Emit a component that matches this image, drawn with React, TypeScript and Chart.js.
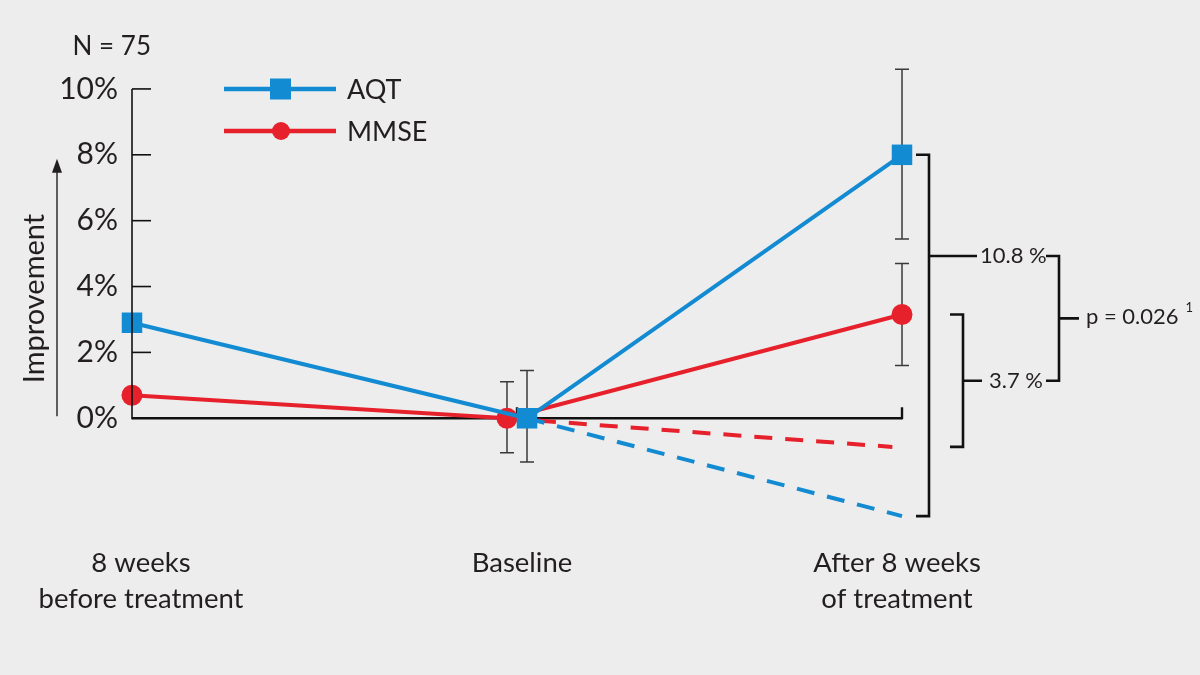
import { useEffect, useRef } from "react";
import { Chart, registerables } from "chart.js";

Chart.register(...registerables);

// ---- data ----
const categories: string[][] = [["8 weeks", "before treatment"], ["Baseline"], ["After 8 weeks", "of treatment"]];
const aqtValues = [2.9, 0, 8.0];
const mmseValues = [0.7, 0, 3.15];
const aqtErrHigh: (number | null)[] = [null, 1.45, 10.6];
const aqtErrLow: (number | null)[] = [null, -1.33, 5.44];
const mmseErrHigh: (number | null)[] = [null, 1.11, 4.7];
const mmseErrLow: (number | null)[] = [null, -1.05, 1.6];
const aqtProjected = -2.97; // expected course without treatment
const mmseProjected = -0.87;
const yTickValues = [0, 2, 4, 6, 8, 10];
const aqtDiffLabel = "10.8 %";
const mmseDiffLabel = "3.7 %";
const pLabel = "p = 0.026";
const pFootnote = "1";
const nLabel = "N = 75";
const seriesNames = ["AQT", "MMSE"];

// ---- style ----
const BLUE = "#128bd2";
const RED = "#e6212b";
const INK = "#231f20";
const BG = "#ededed";
const FONT = "Lato, 'Open Sans', sans-serif";
const JITTER = 0.026; // horizontal dodge at baseline

const pts = (vals: number[], dodge: number) =>
  vals.map((v, i) => ({ x: i === 1 ? i + dodge : i, y: v }));

export default function App() {
  const ref = useRef<HTMLCanvasElement | null>(null);

  useEffect(() => {
    document.body.style.margin = "0";
    document.body.style.background = BG;
    const canvas = ref.current!;

    const decor = {
      id: "decor",
      beforeDraw(chart: any) {
        const { ctx } = chart;
        ctx.save();
        ctx.fillStyle = BG;
        ctx.fillRect(0, 0, chart.width, chart.height);
        ctx.restore();
      },
      beforeDatasetsDraw(chart: any) {
        const { ctx, chartArea } = chart;
        const xs = chart.scales.x;
        const ys = chart.scales.y;
        ctx.save();
        // zero line with end ticks
        const y0 = ys.getPixelForValue(0);
        ctx.strokeStyle = "#111";
        ctx.lineWidth = 2.6;
        ctx.beginPath();
        ctx.moveTo(chartArea.left, y0);
        ctx.lineTo(xs.getPixelForValue(2), y0);
        ctx.stroke();
        ctx.lineWidth = 2.4;
        for (const v of [1, 2]) {
          const px = xs.getPixelForValue(v);
          ctx.beginPath();
          ctx.moveTo(px, y0 + 1);
          ctx.lineTo(px, y0 - 11);
          ctx.stroke();
        }
        // error bars
        ctx.strokeStyle = "#3a3a3a";
        ctx.lineWidth = 1.5;
        const drawErr = (hi: (number | null)[], lo: (number | null)[], dodge: number) => {
          hi.forEach((h, i) => {
            const l = lo[i];
            if (h == null || l == null) return;
            const px = xs.getPixelForValue(i === 1 ? i + dodge : i);
            const py1 = ys.getPixelForValue(h);
            const py2 = ys.getPixelForValue(l);
            ctx.beginPath();
            ctx.moveTo(px, py1);
            ctx.lineTo(px, py2);
            ctx.moveTo(px - 7, py1);
            ctx.lineTo(px + 7, py1);
            ctx.moveTo(px - 7, py2);
            ctx.lineTo(px + 7, py2);
            ctx.stroke();
          });
        };
        drawErr(mmseErrHigh, mmseErrLow, -JITTER);
        drawErr(aqtErrHigh, aqtErrLow, JITTER);
        ctx.restore();
      },
      afterDraw(chart: any) {
        const { ctx, chartArea } = chart;
        const xs = chart.scales.x;
        const ys = chart.scales.y;
        ctx.save();
        // y axis line + inward ticks
        const left = chartArea.left;
        ctx.strokeStyle = "#111";
        ctx.lineWidth = 1.6;
        ctx.beginPath();
        ctx.moveTo(left, ys.getPixelForValue(0) + 1);
        ctx.lineTo(left, ys.getPixelForValue(10));
        ctx.stroke();
        yTickValues.forEach((v) => {
          if (v === 0) return;
          const py = ys.getPixelForValue(v);
          ctx.beginPath();
          ctx.moveTo(left, py);
          ctx.lineTo(left + 19, py);
          ctx.stroke();
        });

        // y title + arrow
        ctx.fillStyle = INK;
        ctx.save();
        ctx.translate(35, (ys.getPixelForValue(0) + ys.getPixelForValue(8)) / 2 + 12);
        ctx.rotate(-Math.PI / 2);
        ctx.font = `29px ${FONT}`;
        ctx.textAlign = "center";
        ctx.textBaseline = "middle";
        ctx.fillText("Improvement", 0, 0);
        ctx.restore();
        ctx.strokeStyle = INK;
        ctx.lineWidth = 1.4;
        ctx.beginPath();
        ctx.moveTo(57, ys.getPixelForValue(0) - 2);
        ctx.lineTo(57, ys.getPixelForValue(8) + 14);
        ctx.stroke();
        ctx.beginPath();
        ctx.moveTo(57, ys.getPixelForValue(8) + 4);
        ctx.lineTo(52, ys.getPixelForValue(8) + 18);
        ctx.lineTo(62, ys.getPixelForValue(8) + 18);
        ctx.closePath();
        ctx.fill();

        // N label
        ctx.font = `26px ${FONT}`;
        ctx.textAlign = "right";
        ctx.textBaseline = "middle";
        ctx.fillText(nLabel, 151, 47);

        // category labels
        const nudge = [9, 5, -5];
        ctx.font = `27.5px ${FONT}`;
        ctx.textAlign = "center";
        categories.forEach((lines, i) => {
          const cx = xs.getPixelForValue(i) + nudge[i];
          lines.forEach((t, j) => ctx.fillText(t, cx, 563 + j * 36));
        });

        // legend
        const legend = [
          { name: seriesNames[0], color: BLUE, shape: "rect", y: 89 },
          { name: seriesNames[1], color: RED, shape: "circle", y: 131 },
        ];
        legend.forEach((it) => {
          ctx.strokeStyle = it.color;
          ctx.fillStyle = it.color;
          ctx.lineWidth = 4.5;
          ctx.beginPath();
          ctx.moveTo(224, it.y);
          ctx.lineTo(336, it.y);
          ctx.stroke();
          if (it.shape === "rect") ctx.fillRect(270, it.y - 10.5, 21, 21);
          else {
            ctx.beginPath();
            ctx.arc(281, it.y, 9, 0, Math.PI * 2);
            ctx.fill();
          }
          ctx.fillStyle = INK;
          ctx.font = `27px ${FONT}`;
          ctx.textAlign = "left";
          ctx.textBaseline = "middle";
          ctx.fillText(it.name, 347, it.y + 1);
        });

        // brackets
        const xAfter = xs.getPixelForValue(2);
        ctx.strokeStyle = "#111";
        ctx.lineWidth = 2.6;
        ctx.fillStyle = INK;
        ctx.font = `22px ${FONT}`;
        ctx.textAlign = "left";
        ctx.textBaseline = "middle";
        // AQT bracket
        const bx1 = xAfter + 27;
        const t1 = ys.getPixelForValue(aqtValues[2]);
        const b1 = ys.getPixelForValue(aqtProjected);
        const m1 = t1 + 0.28 * (b1 - t1);
        ctx.beginPath();
        ctx.moveTo(bx1 - 13, t1);
        ctx.lineTo(bx1, t1);
        ctx.lineTo(bx1, b1);
        ctx.lineTo(bx1 - 13, b1);
        ctx.moveTo(bx1, m1);
        ctx.lineTo(bx1 + 48, m1);
        ctx.stroke();
        ctx.fillText(aqtDiffLabel, bx1 + 51, m1);
        // MMSE bracket
        const bx2 = xAfter + 61;
        const t2 = ys.getPixelForValue(mmseValues[2]);
        const b2 = ys.getPixelForValue(mmseProjected);
        const m2 = (t2 + b2) / 2;
        ctx.beginPath();
        ctx.moveTo(bx2 - 13, t2);
        ctx.lineTo(bx2, t2);
        ctx.lineTo(bx2, b2);
        ctx.lineTo(bx2 - 13, b2);
        ctx.moveTo(bx2, m2);
        ctx.lineTo(bx2 + 19, m2);
        ctx.stroke();
        ctx.fillText(mmseDiffLabel, bx2 + 26, m2);
        // p bracket
        const bx3 = xAfter + 157;
        const m3 = (m1 + m2) / 2;
        ctx.beginPath();
        ctx.moveTo(bx3 - 13, m1);
        ctx.lineTo(bx3, m1);
        ctx.lineTo(bx3, m2);
        ctx.lineTo(bx3 - 13, m2);
        ctx.moveTo(bx3, m3);
        ctx.lineTo(bx3 + 20, m3);
        ctx.stroke();
        ctx.fillText(pLabel, bx3 + 27, m3 - 1);
        const pw = ctx.measureText(pLabel).width;
        ctx.font = `13px ${FONT}`;
        ctx.fillText(pFootnote, bx3 + 27 + pw + 7, m3 - 11);

        ctx.restore();
      },
    };

    const chart = new Chart(canvas, {
      type: "line",
      data: {
        datasets: [
          {
            label: seriesNames[0],
            data: pts(aqtValues, JITTER),
            borderColor: BLUE,
            backgroundColor: BLUE,
            borderWidth: 4,
            pointStyle: "rect",
            pointRadius: 14.5,
            pointBorderWidth: 0,
            pointBackgroundColor: BLUE,
            clip: false,
          } as any,
          {
            label: seriesNames[1],
            data: pts(mmseValues, -JITTER),
            borderColor: RED,
            backgroundColor: RED,
            borderWidth: 4,
            pointStyle: "circle",
            pointRadius: 10.5,
            pointBorderWidth: 0,
            pointBackgroundColor: RED,
            clip: false,
          } as any,
          {
            label: "AQT projection",
            data: [
              { x: 1 + JITTER, y: 0 },
              { x: 2, y: aqtProjected },
            ],
            borderColor: BLUE,
            borderWidth: 4,
            borderDash: [18, 13],
            pointRadius: 0,
            clip: false,
          } as any,
          {
            label: "MMSE projection",
            data: [
              { x: 1 - JITTER, y: 0 },
              { x: 1.975, y: mmseProjected },
            ],
            borderColor: RED,
            borderWidth: 4,
            borderDash: [18, 13],
            pointRadius: 0,
            clip: false,
          } as any,
        ],
      },
      options: {
        responsive: false,
        animation: false,
        events: [],
        layout: { padding: { left: 0, right: 298, top: 56, bottom: 125 } },
        plugins: { legend: { display: false }, tooltip: { enabled: false } },
        scales: {
          x: { type: "linear", min: 0, max: 2, display: false },
          y: {
            type: "linear",
            min: -4,
            max: 11,
            afterBuildTicks: (s: any) => {
              s.ticks = yTickValues.map((v) => ({ value: v }));
            },
            afterFit: (s: any) => {
              s.width = 132;
            },
            grid: { display: false, drawTicks: false },
            border: { display: false },
            ticks: {
              padding: 14,
              color: INK,
              font: { family: FONT, size: 30 },
              callback: (v: any) => `${v}%`,
            },
          },
        },
      },
      plugins: [decor],
    });
    return () => chart.destroy();
  }, []);

  return (
    <div style={{ width: 1200, height: 675, background: BG }}>
      <canvas ref={ref} width={1200} height={675} />
    </div>
  );
}
